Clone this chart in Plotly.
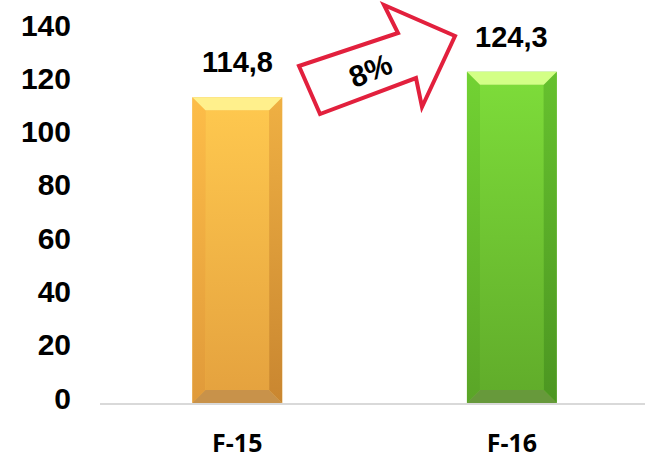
import plotly.graph_objects as go

# ---- data ----
categories = ["F-15", "F-16"]
values = [114.8, 124.3]
value_labels = ["114,8", "124,3"]
change_label = "8%"
y_ticks = [0, 20, 40, 60, 80, 100, 120, 140]

# ---- styles ----
W, H = 645, 460
ML, MR, MT, MB = 100, 0, 30, 57
PW, PH = W - ML - MR, H - MT - MB
Y_MAX = 140
X_RANGE = [-0.5, 1.485]
BAR_W = 0.327

palettes = [
    dict(top="#FFF08C", face=("#E4A13E", "#FFC94F"), left=("#E09A3A", "#FDBD48"),
         right=("#C98630", "#EFB043"), bottom="#C8924A", base="#F4B545"),
    dict(top="#D3FF86", face=("#60AB2A", "#7EDD3A"), left=("#5AA527", "#72D233"),
         right=("#4C9621", "#66C12E"), bottom="#67993B", base="#6CC232"),
]

xs = list(range(len(categories)))
fig = go.Figure()

# main bars
fig.add_trace(go.Bar(
    x=xs, y=values, width=BAR_W,
    marker=dict(color=[p["base"] for p in palettes], line=dict(width=0)),
    hoverinfo="skip", showlegend=False,
))

# bevel overlays derived from the values through the axis scales
x_unit = (X_RANGE[1] - X_RANGE[0]) / PW
y_unit = Y_MAX / PH
bx = 13 * x_unit
by = 13 * y_unit
for i, v in zip(xs, values):
    p = palettes[i]
    l, r = i - BAR_W / 2, i + BAR_W / 2
    polys = [
        ("face", [l + bx, r - bx, r - bx, l + bx, l + bx], [by, by, v - by, v - by, by]),
        ("left", [l, l + bx, l + bx, l, l], [0, by, v - by, v, 0]),
        ("right", [r, r - bx, r - bx, r, r], [0, by, v - by, v, 0]),
    ]
    for key, px, py in polys:
        c0, c1 = p[key]
        fig.add_trace(go.Scatter(
            x=px, y=py, mode="lines", fill="toself", line=dict(width=0),
            fillgradient=dict(type="vertical", colorscale=[[0, c0], [1, c1]], start=0, stop=v),
            hoverinfo="skip", showlegend=False,
        ))
    fig.add_trace(go.Scatter(
        x=[l, r, r - bx, l + bx, l], y=[v, v, v - by, v - by, v], mode="lines",
        fill="toself", fillcolor=p["top"], line=dict(width=0),
        hoverinfo="skip", showlegend=False,
    ))
    fig.add_trace(go.Scatter(
        x=[l, r, r - bx, l + bx, l], y=[0, 0, by, by, 0], mode="lines",
        fill="toself", fillcolor=p["bottom"], line=dict(width=0),
        hoverinfo="skip", showlegend=False,
    ))

# value labels
for i, (v, t) in enumerate(zip(values, value_labels)):
    fig.add_annotation(
        x=i, y=v, text=t, showarrow=False, yanchor="bottom", yshift=17,
        font=dict(family="Liberation Sans", size=29, color="#000000", weight="bold"),
    )

# decorative arrow (pixel -> paper)
def px2paper(x, y):
    return (x - ML) / PW, (H - MB - y) / PH

arrow_px = [(299, 66), (398, 33), (384, 5), (455, 36), (422, 107), (416, 78), (320, 114)]
pts = [px2paper(x, y) for x, y in arrow_px]
path = "M " + " L ".join(f"{x:.4f},{y:.4f}" for x, y in pts) + " Z"
fig.add_shape(type="path", path=path, xref="paper", yref="paper",
              fillcolor="#FFFFFF", line=dict(color="#E2203D", width=4), layer="above")
tx, ty = px2paper(370, 71)
fig.add_annotation(x=tx, y=ty, xref="paper", yref="paper", text=change_label,
                   showarrow=False, textangle=-22, xanchor="center", yanchor="middle",
                   font=dict(family="Liberation Sans", size=30, color="#000000", weight="bold"))

fig.update_layout(
    width=W, height=H,
    margin=dict(l=ML, r=MR, t=MT, b=MB, autoexpand=False),
    paper_bgcolor="#FFFFFF", plot_bgcolor="#FFFFFF",
    showlegend=False,
    xaxis=dict(range=X_RANGE, tickvals=xs, ticktext=categories, showgrid=False,
               zeroline=False, showline=True, linecolor="#D9D9D9", linewidth=1.5,
               ticks="", ticklabelstandoff=17, automargin=False,
               tickfont=dict(family="Open Sans", size=25, color="#000000", weight="bold")),
    yaxis=dict(range=[0, Y_MAX], tickvals=y_ticks, showgrid=False, zeroline=False,
               showline=False, ticks="", ticklabelstandoff=28, ticklabelshift=-5,
               automargin=False,
               tickfont=dict(family="Liberation Sans", size=30, color="#000000", weight="bold")),
)

fig.write_html(
    "out.html",
    config={"displayModeBar": False},
    post_script="document.body.style.margin='0px';document.body.style.overflow='hidden';",
)
